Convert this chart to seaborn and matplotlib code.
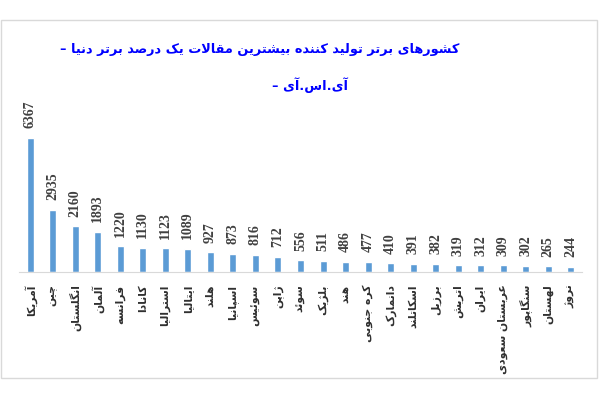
import matplotlib
matplotlib.use('Agg')
import matplotlib.pyplot as plt
import matplotlib.patches as patches
import pandas as pd
import seaborn as sns

# Chart data
countries = ['آمریکا', 'چین', 'انگلستان', 'آلمان', 'فرانسه', 'کانادا',
             'استرالیا', 'ایتالیا', 'هلند', 'اسپانیا', 'سوئیس', 'ژاپن',
             'سوئد', 'بلژیک', 'هند', 'کره جنوبی', 'دانمارک', 'اسکاتلند',
             'برزیل', 'اتریش', 'ایران', 'عربستان سعودی', 'سنگاپور',
             'لهستان', 'نروژ']
papers = [6367, 2935, 2160, 1893, 1220, 1130, 1123, 1089, 927, 873, 816,
          712, 556, 511, 486, 477, 410, 391, 382, 319, 312, 309, 302, 265, 244]
title_line1 = 'کشورهای برتر تولید کننده بیشترین مقالات یک درصد برتر دنیا –'
title_line2 = 'آی.اس.آی –'

# matplotlib has no Arabic shaping, so map letters to presentation forms
# (isolated, final, initial, medial) and reverse for right-to-left display
FORMS = {
    'ا': ('\uFE8D', '\uFE8E'), 'آ': ('\uFE81', '\uFE82'),
    'ب': ('\uFE8F', '\uFE90', '\uFE91', '\uFE92'),
    'پ': ('\uFB56', '\uFB57', '\uFB58', '\uFB59'),
    'ت': ('\uFE95', '\uFE96', '\uFE97', '\uFE98'),
    'ث': ('\uFE99', '\uFE9A', '\uFE9B', '\uFE9C'),
    'ج': ('\uFE9D', '\uFE9E', '\uFE9F', '\uFEA0'),
    'چ': ('\uFB7A', '\uFB7B', '\uFB7C', '\uFB7D'),
    'ح': ('\uFEA1', '\uFEA2', '\uFEA3', '\uFEA4'),
    'خ': ('\uFEA5', '\uFEA6', '\uFEA7', '\uFEA8'),
    'د': ('\uFEA9', '\uFEAA'), 'ذ': ('\uFEAB', '\uFEAC'),
    'ر': ('\uFEAD', '\uFEAE'), 'ز': ('\uFEAF', '\uFEB0'),
    'ژ': ('\uFB8A', '\uFB8B'),
    'س': ('\uFEB1', '\uFEB2', '\uFEB3', '\uFEB4'),
    'ش': ('\uFEB5', '\uFEB6', '\uFEB7', '\uFEB8'),
    'ص': ('\uFEB9', '\uFEBA', '\uFEBB', '\uFEBC'),
    'ض': ('\uFEBD', '\uFEBE', '\uFEBF', '\uFEC0'),
    'ط': ('\uFEC1', '\uFEC2', '\uFEC3', '\uFEC4'),
    'ظ': ('\uFEC5', '\uFEC6', '\uFEC7', '\uFEC8'),
    'ع': ('\uFEC9', '\uFECA', '\uFECB', '\uFECC'),
    'غ': ('\uFECD', '\uFECE', '\uFECF', '\uFED0'),
    'ف': ('\uFED1', '\uFED2', '\uFED3', '\uFED4'),
    'ق': ('\uFED5', '\uFED6', '\uFED7', '\uFED8'),
    'ک': ('\uFB8E', '\uFB8F', '\uFB90', '\uFB91'),
    'گ': ('\uFB92', '\uFB93', '\uFB94', '\uFB95'),
    'ل': ('\uFEDD', '\uFEDE', '\uFEDF', '\uFEE0'),
    'م': ('\uFEE1', '\uFEE2', '\uFEE3', '\uFEE4'),
    'ن': ('\uFEE5', '\uFEE6', '\uFEE7', '\uFEE8'),
    'و': ('\uFEED', '\uFEEE'),
    'ه': ('\uFEE9', '\uFEEA', '\uFEEB', '\uFEEC'),
    'ی': ('\uFBFC', '\uFBFD', '\uFBFE', '\uFBFF'),
    'ئ': ('\uFE89', '\uFE8A', '\uFE8B', '\uFE8C'),
}
LAM_ALEF = {'ا': ('\uFEFB', '\uFEFC'), 'آ': ('\uFEF5', '\uFEF6')}


def shape(text):
    out = []
    i = 0
    n = len(text)
    while i < n:
        c = text[i]
        if c not in FORMS:
            out.append(c)
            i += 1
            continue
        prev_j = i > 0 and text[i - 1] in FORMS and len(FORMS[text[i - 1]]) == 4
        if c == 'ل' and i + 1 < n and text[i + 1] in LAM_ALEF:
            iso, fin = LAM_ALEF[text[i + 1]]
            out.append(fin if prev_j else iso)
            i += 2
            continue
        f = FORMS[c]
        next_j = len(f) == 4 and i + 1 < n and text[i + 1] in FORMS
        if prev_j and next_j:
            out.append(f[3])
        elif prev_j:
            out.append(f[1])
        elif next_j:
            out.append(f[2])
        else:
            out.append(f[0])
        i += 1
    return ''.join(out)[::-1]


df = pd.DataFrame({'country': [shape(c) for c in countries], 'papers': papers})

sns.set_style('white')
fig = plt.figure(figsize=(6, 4), dpi=100)
ax = fig.add_axes([19 / 600, 128 / 400, 563 / 600, 162 / 400])

sns.barplot(data=df, x='country', y='papers', color='#5B9BD5', width=0.31,
            saturation=1, ax=ax)
ax.set_ylim(0, 7680)
ax.set_xlim(-0.5, len(papers) - 0.5)
ax.set_xlabel('')
ax.set_ylabel('')
ax.set_yticks([])
for side in ['top', 'left', 'right']:
    ax.spines[side].set_visible(False)
ax.spines['bottom'].set_color('#D9D9D9')
ax.tick_params(axis='x', length=0, pad=9)
for lab in ax.get_xticklabels():
    lab.set_rotation(90)
    lab.set_fontfamily('DejaVu Sans')
    lab.set_fontweight('bold')
    lab.set_fontsize(7.8)
    lab.set_color('#303030')

# value labels above the bars
for i, v in enumerate(papers):
    ax.annotate(str(v), (i, v), xytext=(0, 7), textcoords='offset points',
                rotation=90, ha='center', va='bottom',
                family='Liberation Serif', fontweight='bold', fontsize=10,
                color='#404040')

fig.text(260 / 600, 1 - 50 / 400, shape(title_line1), ha='center', va='center',
         family='DejaVu Sans', fontweight='bold', fontsize=9.3, color='#0000FF')
fig.text(310 / 600, 1 - 85 / 400, shape(title_line2), ha='center', va='center',
         family='DejaVu Sans', fontweight='bold', fontsize=9.3, color='#0000FF')

# chart frame
fig.patches.append(patches.Rectangle((0.5 / 600, 22 / 400), 596 / 600, 358 / 400,
                                     transform=fig.transFigure, fill=False,
                                     edgecolor='#D9D9D9', linewidth=1))

fig.savefig('out.png', dpi=100)
